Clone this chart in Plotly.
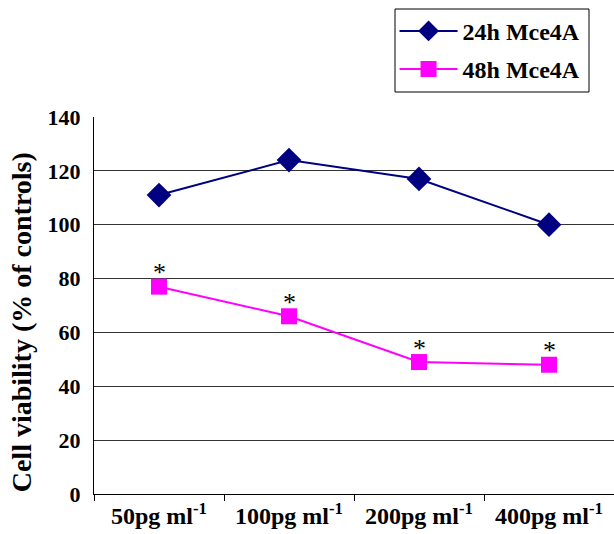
import plotly.graph_objects as go

categories = ["50pg ml<sup>-1</sup>", "100pg ml<sup>-1</sup>", "200pg ml<sup>-1</sup>", "400pg ml<sup>-1</sup>"]
h24 = [111, 124, 117, 100]
h48 = [77, 66, 49, 48]
series_names = ["24h Mce4A", "48h Mce4A"]
y_ticks = [0, 20, 40, 60, 80, 100, 120, 140]
y_title = "Cell viability (% of controls)"

font_family = "Liberation Serif"

fig = go.Figure()
fig.add_trace(go.Scatter(
    x=categories, y=h24, name=series_names[0], mode="lines+markers",
    line=dict(color="#000080", width=2),
    marker=dict(symbol="diamond", size=19, color="#000080"),
    legendgroup="a",
))
fig.add_trace(go.Scatter(
    x=categories, y=h48, name=series_names[1], mode="lines+markers",
    line=dict(color="#FF00FF", width=2),
    marker=dict(symbol="square", size=16, color="#FF00FF"),
    legendgroup="b",
))

for c, v in zip(categories, h48):
    fig.add_annotation(x=c, y=v, text="*", showarrow=False, yshift=14,
                       font=dict(family=font_family, size=26, color="black"))

# y-axis title as a rotated annotation (placed lower than axis centre, as in the reference)
fig.add_annotation(xref="paper", yref="paper", x=-0.140, y=0.456, text=y_title,
                   textangle=-90, showarrow=False, xanchor="center", yanchor="middle",
                   font=dict(family=font_family, size=28, color="black", weight="bold"))

# legend frame
fig.add_shape(type="rect", xref="paper", yref="paper",
              x0=(395 - 94) / 520, x1=(589 - 94) / 520,
              y0=(494 - 92) / 377, y1=(494 - 9) / 377,
              line=dict(color="black", width=1), fillcolor="rgba(0,0,0,0)")

fig.update_layout(
    width=614, height=534,
    margin=dict(l=94, r=0, t=117, b=40, autoexpand=False),
    paper_bgcolor="white", plot_bgcolor="white",
    font=dict(family=font_family, color="black"),
    showlegend=True,
    legend=dict(
        x=0.578, y=1.287, xanchor="left", yanchor="top",
        borderwidth=0, bgcolor="rgba(0,0,0,0)",
        font=dict(family=font_family, size=24, color="black", weight="bold"),
        itemwidth=58, tracegroupgap=4,
    ),
)
fig.update_xaxes(
    type="category", range=[-0.5, 3.5], automargin=False,
    showline=True, linecolor="black", linewidth=1,
    ticks="outside", tickson="boundaries", ticklen=6, tickcolor="black",
    showgrid=False,
    tickfont=dict(family=font_family, size=24, color="black", weight="bold"),
)
fig.update_yaxes(
    range=[0, 140], tickvals=y_ticks, automargin=False,
    showline=True, linecolor="black", linewidth=1,
    showgrid=True, gridcolor="#333333", gridwidth=1,
    ticks="", zeroline=False, ticklabelstandoff=8,
    tickfont=dict(family=font_family, size=22, color="black", weight="bold"),
)

fig.write_html("out.html", config={"displayModeBar": False},
               post_script="document.body.style.margin='0';document.body.style.padding='0';")
